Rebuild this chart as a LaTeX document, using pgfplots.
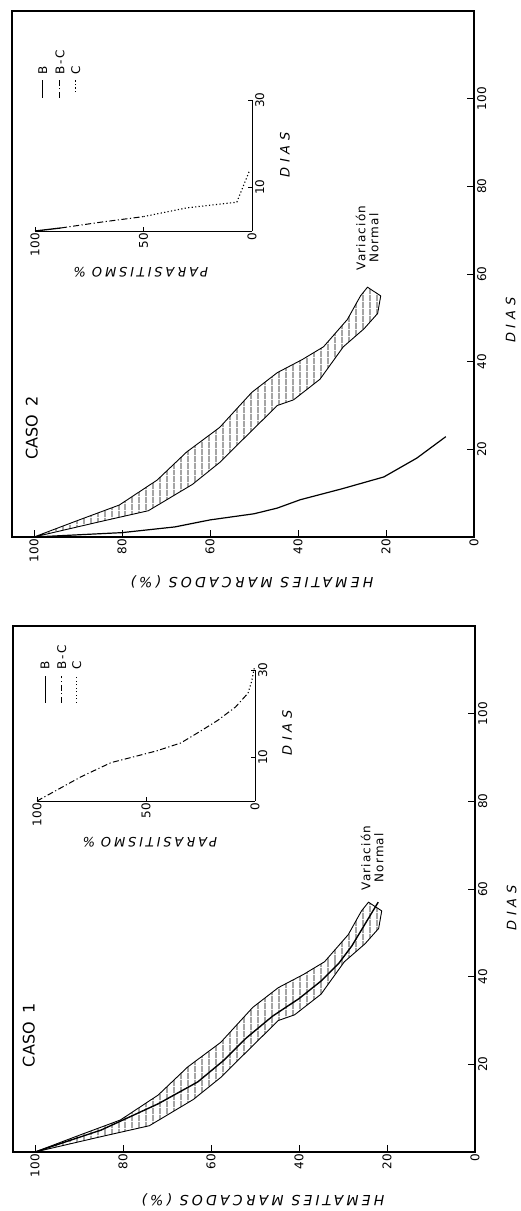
\documentclass[border=0pt]{standalone}
\usepackage{fontspec}
\setmainfont{DejaVu Sans}
\usepackage{pgfplots}
\pgfplotsset{compat=1.18}
\usepackage{pgfplotstable}
\usetikzlibrary{patterns.meta}

\newcommand\ticfont{\fontsize{12}{12}\selectfont}
\newcommand\labfont{\fontsize{14}{14}\selectfont\itshape\addfontfeature{LetterSpace=23}}
\newcommand\diasfont{\fontsize{13}{13}\selectfont\itshape\addfontfeature{LetterSpace=38}}
\newcommand\parfont{\fontsize{13}{13}\selectfont\itshape\addfontfeature{LetterSpace=22}}
\newcommand\casofont{\fontsize{16}{16}\selectfont}
\newcommand\varfont{\fontsize{12}{13}\selectfont\addfontfeature{LetterSpace=10}}
\newcommand\legfont{\fontsize{12}{12}\selectfont\addfontfeature{LetterSpace=15}}

% normal variation band (polygon: high-% edge, then low-% edge back)
\pgfplotstableread{
p d
100 0
90 3.8
80.6 7.3
72 13
65.3 19.4
57.8 25
50.5 33
44.7 37.5
39 40.5
34.2 43.4
28.8 49.6
25.8 55
24.2 57
21.2 55
21.9 51
25 47.5
29.7 43.4
35 36
41 31.3
44.7 30
54.8 20
57.8 17
64 12
74 6
85 3.5
100 0
}\bandtab

\pgfplotstableread{
p d
100 0
85 5
72 11
63 16
57 21
52 26
46 31
40 35
35 39
31 43
28 47
25 52
22 57
}\casoAtab

\pgfplotstableread{
p d
100 0
92 0.4
80 1
68 2.3
60 3.9
50 5.3
44.7 6.6
39.5 8.5
30 11
20.5 13.7
13 18
6.4 22.9
}\casoBtab

\pgfplotstableread{
p d
100 0
80 5.5
66 8.8
55 10.2
45 11.5
34 13.3
25 16
17 18.5
9 21.5
3.2 24.7
}\inAbc
\pgfplotstableread{
p d
3.2 24.7
1.5 27.5
0.3 30.5
}\inAc

\pgfplotstableread{
p d
100 0
88 0.7
}\inBb
\pgfplotstableread{
p d
88 0.7
70 2
50 3.3
}\inBbc
\pgfplotstableread{
p d
50 3.3
30 5.3
7 6.6
1 14
}\inBc

\tikzset{
  bandst/.style={draw=black, line width=0.9pt,
    pattern={Lines[angle=90,distance=6.5pt,line width=0.8pt]}},
  bcst/.style={black, line width=1pt, dash pattern=on 6pt off 2.5pt on 1.2pt off 2.5pt},
  cst/.style={black, line width=1.1pt, dash pattern=on 1.2pt off 2.3pt},
}

\pgfplotsset{
  mainax/.style={
    scale only axis, width=462pt, height=526pt,
    anchor=south west,
    xmin=-105, xmax=0, ymin=0, ymax=120,
    xtick={-100,-80,-60,-40,-20,0},
    xticklabels={100,80,60,40,20,0},
    ytick={20,40,60,80,100},
    xtick pos=bottom, ytick pos=right,
    yticklabel pos=right,
    tick align=inside, major tick length=7pt,
    tick style={line width=1pt, black},
    axis line style={line width=1.2pt},
    xticklabel style={rotate=90, anchor=east, font=\ticfont, inner sep=2pt},
    yticklabel style={rotate=90, anchor=north, font=\ticfont, inner sep=3pt},
    /pgf/number format/assume math mode=true,
    clip=false,
  },
  inax/.style={
    scale only axis, anchor=south west,
    xmin=-100, xmax=0, ymin=0, ymax=30,
    axis x line=bottom, axis y line=right,
    x axis line style={-}, y axis line style={-},
    axis line style={line width=0.9pt},
    xtick={-100,-50,0}, xticklabels={100,50,0},
    ytick={10,30},
    tick align=inside, major tick length=4pt,
    tick style={line width=0.9pt, black},
    xticklabel style={rotate=90, anchor=east, font=\ticfont, inner sep=2pt},
    yticklabel style={rotate=90, anchor=north, font=\ticfont, inner sep=3pt},
    /pgf/number format/assume math mode=true,
    clip=false,
  },
}

\begin{document}
\begin{tikzpicture}[x=1pt,y=1pt]
\useasboundingbox (0pt,0pt) rectangle (520pt,-1211pt);

% ===== CASO 2 (top) =====
\begin{axis}[mainax, at={(12pt,-537pt)}]
\addplot[bandst] table[x expr=-\thisrow{p}, y=d] {\bandtab};
\addplot[black, line width=1.2pt] table[x expr=-\thisrow{p}, y=d] {\casoBtab};
\node[rotate=180, font=\labfont] at (axis cs:-50.5,-10.3) {HEMATIES MARCADOS (\%)};
\node[rotate=90, font=\diasfont] at (axis cs:8.3,49.5) {DIAS};
\node[rotate=90, font=\casofont] at (axis cs:-100.5,24.9) {CASO\hspace{9pt}2};
\node[rotate=90, font=\varfont, align=center] at (axis cs:-24.3,68.2) {Variación\\Normal};
% legend
\draw[black, line width=1pt] (axis cs:-98,100.2) -- (axis cs:-98,104.3);
\draw[bcst] (axis cs:-94.1,100.2) -- (axis cs:-94.1,104.3);
\draw[cst] (axis cs:-90.5,101.5) -- (axis cs:-90.5,104.3);
\node[rotate=90, anchor=west, font=\legfont, inner sep=1pt] at (axis cs:-98,105.3) {B};
\node[rotate=90, anchor=west, font=\legfont, inner sep=1pt] at (axis cs:-94.1,105.3) {B-C};
\node[rotate=90, anchor=west, font=\legfont, inner sep=1pt] at (axis cs:-90.5,105.3) {C};
\end{axis}

\begin{axis}[inax, at={(35pt,-231pt)}, width=217pt, height=131pt]
\addplot[black, line width=1.3pt] table[x expr=-\thisrow{p}, y=d] {\inBb};
\addplot[bcst] table[x expr=-\thisrow{p}, y=d] {\inBbc};
\addplot[cst] table[x expr=-\thisrow{p}, y=d] {\inBc};
\node[rotate=180, font=\parfont] at (axis cs:-51.2,-9.4) {PARASITISMO\hspace{6pt}\%};
\node[rotate=90, font=\diasfont] at (axis cs:15.2,17.4) {DIAS};
\end{axis}

% ===== CASO 1 (bottom) =====
\begin{axis}[mainax, at={(13pt,-1152pt)}]
\addplot[bandst] table[x expr=-\thisrow{p}, y=d] {\bandtab};
\addplot[black, line width=1.4pt] table[x expr=-\thisrow{p}, y=d] {\casoAtab};
\node[rotate=180, font=\labfont] at (axis cs:-48.2,-10.95) {HEMATIES MARCADOS (\%)};
\node[rotate=90, font=\diasfont] at (axis cs:8.3,55.7) {DIAS};
\node[rotate=90, font=\casofont] at (axis cs:-101.4,26.7) {CASO\hspace{9pt}1};
\node[rotate=90, font=\varfont, align=center] at (axis cs:-23.4,67.1) {Variación\\Normal};
% legend
\draw[black, line width=1pt] (axis cs:-97.7,102.5) -- (axis cs:-97.7,108.7);
\draw[bcst] (axis cs:-93.9,102.5) -- (axis cs:-93.9,108.7);
\draw[cst] (axis cs:-90.5,102.5) -- (axis cs:-90.5,108.7);
\node[rotate=90, anchor=west, font=\legfont, inner sep=1pt] at (axis cs:-97.7,109.8) {B};
\node[rotate=90, anchor=west, font=\legfont, inner sep=1pt] at (axis cs:-93.9,109.8) {B-C};
\node[rotate=90, anchor=west, font=\legfont, inner sep=1pt] at (axis cs:-90.5,109.8) {C};
\end{axis}

\begin{axis}[inax, at={(37pt,-801pt)}, width=218pt, height=131pt]
\addplot[bcst] table[x expr=-\thisrow{p}, y=d] {\inAbc};
\addplot[cst] table[x expr=-\thisrow{p}, y=d] {\inAc};
\node[rotate=180, font=\parfont] at (axis cs:-48.2,-9.4) {PARASITISMO\hspace{6pt}\%};
\node[rotate=90, font=\diasfont] at (axis cs:14.7,15.6) {DIAS};
\end{axis}
\end{tikzpicture}
\end{document}
